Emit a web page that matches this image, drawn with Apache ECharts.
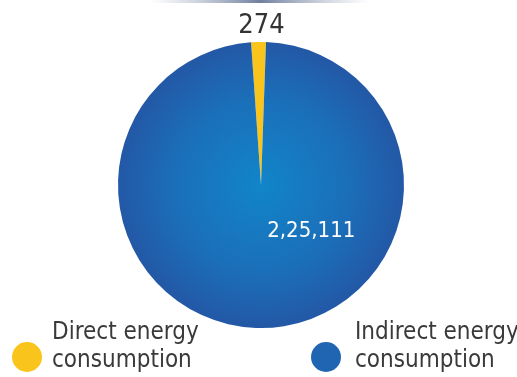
<!DOCTYPE html>
<html>
<head>
<meta charset="utf-8">
<script src="https://cdn.jsdelivr.net/npm/echarts@6/dist/echarts.min.js"></script>
<style>
html,body{margin:0;padding:0;background:#fff;}
#c{width:517px;height:377px;}
</style>
</head>
<body>
<div id="c"></div>
<script>
// ---- data ----
const categories = ['Direct energy consumption', 'Indirect energy consumption'];
const legendLines = [['Direct energy', 'consumption'], ['Indirect energy', 'consumption']];
const values = [274, 225111];
const valueLabels = ['274', '2,25,111'];

const FONT = "'DejaVu Sans Condensed', 'DejaVu Sans', sans-serif";
const colors = [
  '#f9c41b',
  { type: 'radial', x: 0.5, y: 0.5, r: 0.5,
    colorStops: [{ offset: 0, color: '#1185c9' }, { offset: 0.6, color: '#1b6fb9' }, { offset: 1, color: '#2358a6' }] }
];

const chart = echarts.init(document.getElementById('c'), null, { renderer: 'canvas' });

function makeLegend(i, left, padLeft) {
  return {
    left: left, top: 316, orient: 'vertical',
    data: [{ name: categories[i], itemStyle: { color: i === 0 ? '#f9c41b' : '#1f65b2' } }],
    icon: 'circle', itemWidth: 30, itemHeight: 30,
    selectedMode: false,
    formatter: () => '{a|' + legendLines[i][0] + '}\n{a|' + legendLines[i][1] + '}\n{s| }',
    textStyle: {
      padding: [0, 0, 0, padLeft],
      rich: {
        a: { fontFamily: FONT, fontSize: 24, lineHeight: 28, color: '#3a3a3a' },
        s: { fontSize: 10, lineHeight: 20 }
      }
    }
  };
}

chart.setOption({
  animation: false,
  graphic: [{
    type: 'rect', shape: { x: 150, y: 0, width: 220, height: 3 },
    style: { fill: { type: 'linear', x: 0, y: 0, x2: 1, y2: 0,
      colorStops: [{ offset: 0, color: 'rgba(160,170,190,0)' }, { offset: 0.5, color: '#6f7f9f' }, { offset: 1, color: 'rgba(160,170,190,0)' }] } },
    silent: true
  }],
  legend: [makeLegend(0, 7, 5), makeLegend(1, 306, 9)],
  series: [{
    type: 'pie',
    center: [261, 185],
    radius: [0, 143],
    startAngle: 94,
    minAngle: 6,
    clockwise: true,
    avoidLabelOverlap: false,
    silent: true,
    labelLine: { show: false, length: 2, length2: 0 },
    data: categories.map((name, i) => ({
      name: name,
      value: values[i],
      itemStyle: { color: colors[i] },
      label: i === 0
        ? { show: true, position: 'outside', formatter: () => valueLabels[i], fontFamily: FONT, fontSize: 27, color: '#333' }
        : { show: true, position: 'inside', formatter: () => valueLabels[i], fontFamily: FONT, fontSize: 22, color: '#fff', offset: [49, -28] }
    })),
    labelLayout: function (p) {
      if (p.dataIndex !== 0) return {};
      return { x: p.rect.x + p.rect.width / 2 + 3, y: p.rect.y - 16, align: 'center', verticalAlign: 'middle' };
    }
  }]
});
</script>
</body>
</html>
